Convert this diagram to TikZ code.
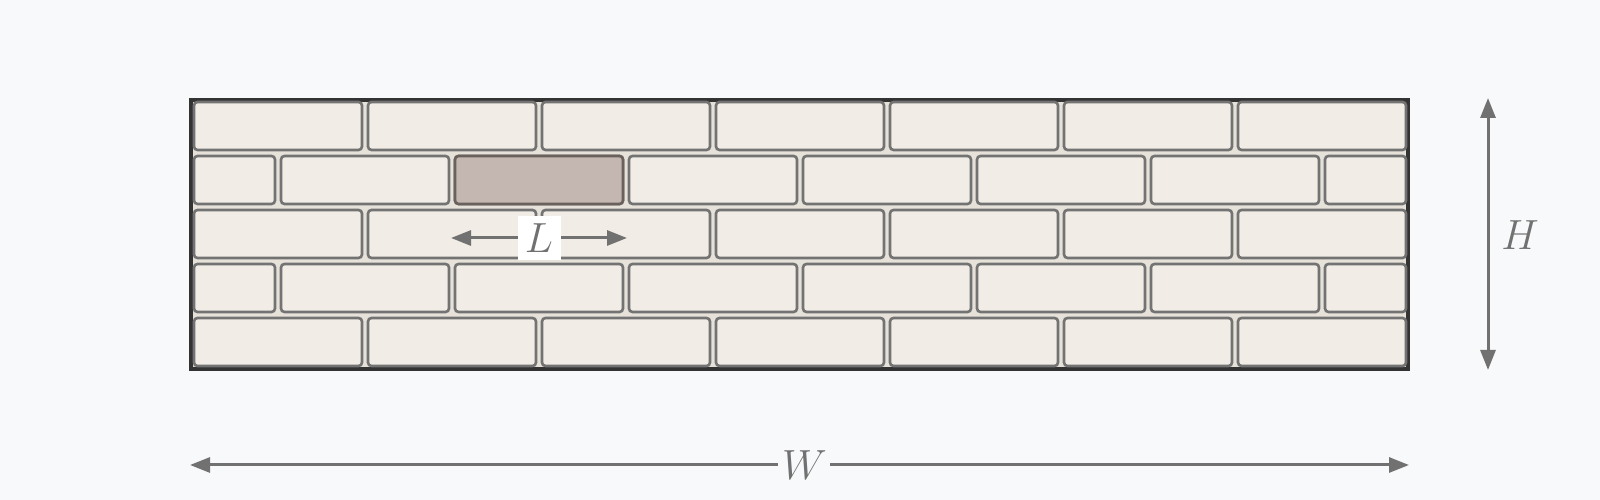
\documentclass[tikz,border=0pt]{standalone}
\usepackage{tikz}
\usetikzlibrary{arrows.meta,calc}
\definecolor{bgcol}{HTML}{F8F9FA}
\definecolor{mortar}{HTML}{E6E1D9}
\definecolor{brickfill}{HTML}{F1ECE5}
\definecolor{brickedge}{HTML}{737373}
\definecolor{markfill}{HTML}{C4B7B1}
\definecolor{markedge}{HTML}{6A605C}
\definecolor{dimcol}{HTML}{717171}
\tikzstyle{wall} = [draw=black!80, line width=1.4pt, fill=mortar]
\tikzstyle{brick} = [draw=brickedge, fill=brickfill, line width=0.75pt, rounded corners=0.35mm]
\tikzstyle{marked} = [brick, draw=markedge, fill=markfill]
\tikzstyle{dimline} = [draw=dimcol, line width=0.85pt, {Triangle[length=2mm,width=1.5mm]}-{Triangle[length=2mm,width=1.5mm]}]
\tikzstyle{dimlabel} = [text=dimcol, font=\fontsize{12}{14}\selectfont, inner sep=0pt]
\begin{document}
\begin{tikzpicture}[x=0.1mm, y=-0.1mm]
    \fill[bgcol] (0,0) rectangle (1600,500);
    \useasboundingbox (0,0) rectangle (1600,500);
    \draw[wall] (191,100) rectangle (1408,369);
    \foreach \r in {0,2,4}
        \foreach \i in {0,...,6}
            \draw[brick] ({194+174*\i},{102+54*\r}) rectangle ++(168,48);
    \foreach \r in {1,3} {
        \draw[brick] (194,{102+54*\r}) rectangle ++(81,48);
        \foreach \i in {0,...,5}
            \draw[brick] ({281+174*\i},{102+54*\r}) rectangle ++(168,48);
        \draw[brick] (1325,{102+54*\r}) rectangle ++(81,48);
    }
    \draw[marked] (455,156) rectangle ++(168,48);
    \coordinate (lstart) at (451,238);
    \coordinate (lend) at (627,238);
    \coordinate (htop) at (1488,98);
    \coordinate (hbot) at (1488,370);
    \coordinate (wleft) at (190,465);
    \coordinate (wright) at (1409,465);
    \path[dimline] (lstart) -- node[dimlabel, fill=white, minimum width=4.3mm, minimum height=4.4mm] (L) {$L$} (lend);
    \path[dimline] (htop) -- (hbot);
    \node[dimlabel] (H) at (1520,235) {$H$};
    \path[dimline] (wleft) -- node[dimlabel, fill=bgcol, minimum width=5.2mm, minimum height=4mm, pos=0.504] (W) {$W$} (wright);
\end{tikzpicture}
\end{document}
